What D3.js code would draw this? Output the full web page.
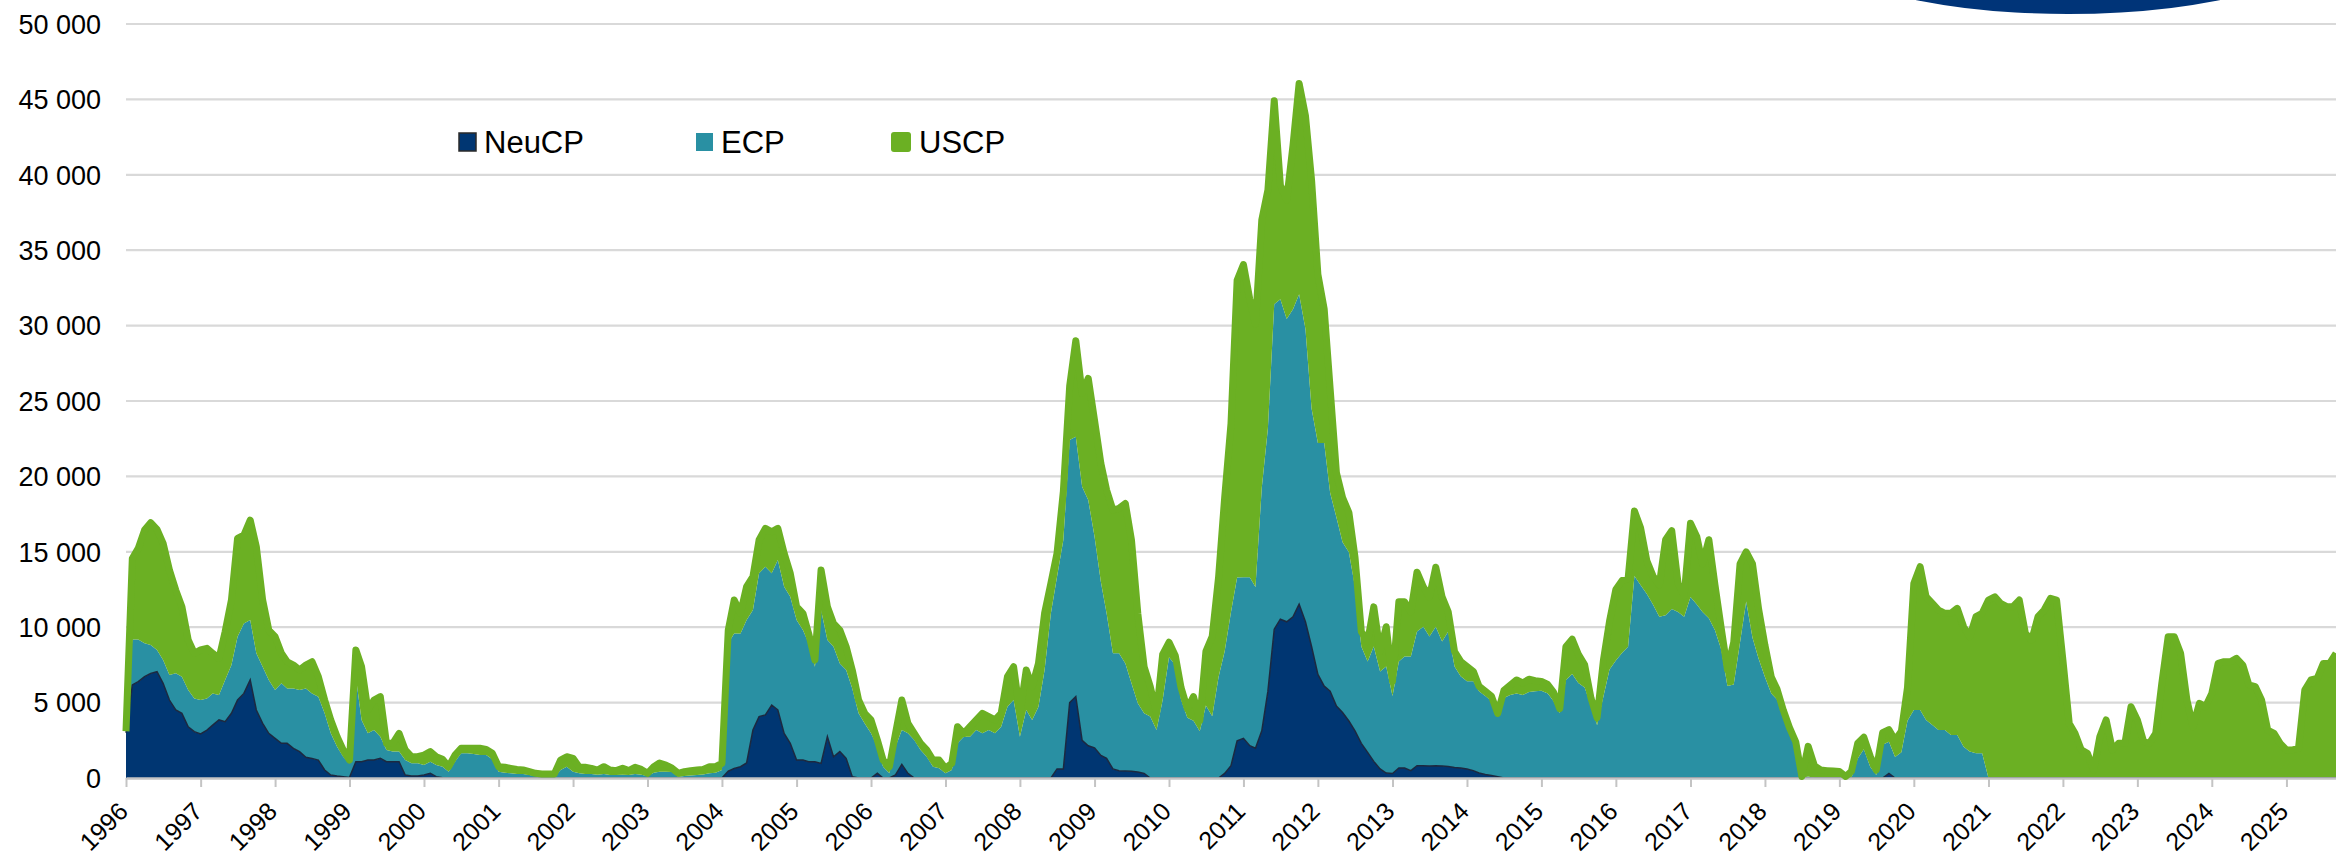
<!doctype html>
<html>
<head>
<meta charset="utf-8">
<script src="https://d3js.org/d3.v7.min.js"></script>
<style>
  body { margin: 0; background: #fff; }
  svg { display: block; font-family: "Liberation Sans", Arial, sans-serif; }
</style>
</head>
<body>
<svg id="chart" width="2336" height="858"></svg>
<script>
// monthly values, Jan 1996 .. Sep 2025 (one row per year)
var seriesNames = ["NeuCP", "ECP", "USCP"];
var seriesColors = ["#003672", "#2990a3", "#6bb023"];
var yTickValues = [0, 5000, 10000, 15000, 20000, 25000, 30000, 35000, 40000, 45000, 50000];
var yearLabels = d3.range(1996, 2026);

var neucp = [
  3000,6170,6390,6720,6940,7050,6280,5170,4510,4290,3400,3070,
  2920,3180,3510,3850,3730,4290,5170,5610,6500,4510,3620,2960,
  2630,2300,2300,1970,1750,1370,1300,1190,530,200,130,90,
  40,1080,1080,1190,1190,1300,1080,1080,1080,200,130,130,
  200,310,90,20,0,0,0,0,0,0,0,0,
  0,0,0,0,0,0,0,0,0,0,0,0,
  0,0,0,0,0,0,0,0,0,0,0,0,
  0,0,0,0,0,0,0,0,0,0,0,0,
  0,450,640,750,1000,3180,4070,4180,4840,4510,2960,2300,
  1190,1190,1080,1080,970,2740,1410,1750,1300,90,0,0,
  0,310,0,0,200,900,300,0,0,0,0,0,
  0,0,0,0,0,0,0,0,0,0,0,0,
  0,0,0,0,0,0,600,600,5000,5400,2500,2140,
  2000,1500,1300,600,480,470,450,400,300,0,0,0,
  0,0,0,0,0,0,0,0,0,300,820,2470,
  2630,2140,1970,3130,5760,9870,10530,10360,10690,11520,10360,8720,
  6870,6090,5760,4770,4340,3780,3130,2300,1700,1100,600,330,
  300,660,660,490,820,820,800,820,800,760,700,660,
  600,490,330,230,160,80,0,0,0,0,0,0,
  0,0,0,0,0,0,0,0,0,0,0,0,
  0,0,0,0,0,0,0,0,0,0,0,0,
  0,0,0,0,0,0,0,0,0,0,0,0,
  0,0,0,0,0,0,0,0,0,0,0,0,
  0,0,0,0,0,0,0,0,300,0,0,0,
  0,0,0,0,0,0,0,0,0,0,0,0,
  0,0,0,0,0,0,0,0,0,0,0,0,
  0,0,0,0,0,0,0,0,0,0,0,0,
  0,0,0,0,0,0,0,0,0,0,0,0,
  0,0,0,0,0,0,0,0,0,0,0,0,
  0,0,0,0,0,0,0,0,0
];

var ecp = [
  0,3020,2800,2210,1880,1440,1540,1660,2430,2430,2430,2210,
  2250,2100,2100,1650,2770,3200,4200,4640,3980,3760,3760,3540,
  3200,3980,3640,3970,4080,4570,4310,4200,3760,2760,1950,1320,
  930,5640,2770,1770,1990,1440,780,670,670,990,840,840,
  660,770,770,730,420,1080,1640,1640,1590,1520,1520,1240,
  420,350,310,270,270,200,130,90,90,90,530,750,
  420,310,270,270,220,270,200,200,220,200,270,220,
  130,350,420,420,400,90,130,170,200,240,310,350,
  530,8480,8950,8840,9480,7960,9500,9830,8730,9940,9730,9720,
  9290,8620,7850,6300,10170,6410,7300,5850,5860,5850,4290,3620,
  2960,1770,750,310,1880,2280,2660,2520,1860,1410,750,640,
  310,530,2300,2740,2740,3180,2960,3180,2960,3400,4730,5170,
  2740,4510,3850,4730,7160,10920,12750,15180,17410,17230,16820,16290,
  14000,11500,9620,7670,7790,7130,5830,4550,3990,4070,3180,5170,
  8000,7500,5200,4000,3800,3100,4800,4100,6700,8100,10180,10830,
  10690,11180,10700,16120,17430,21550,21220,20070,20400,20560,19410,15790,
  15340,16120,13160,12500,11290,11190,9540,6420,6030,7620,6470,7070,
  5130,7070,7400,7570,8890,9210,8580,9210,8250,8950,6700,6080,
  5820,5930,5430,5200,4940,4030,5300,5500,5600,5500,5700,5750,
  5780,5600,5100,4300,6500,6900,6300,6000,4800,3500,5400,7200,
  7800,8300,8700,13400,12800,12200,11500,10700,10800,11200,11000,10700,
  12000,11500,11000,10600,9800,8500,6100,6200,9000,11700,9300,7900,
  6700,5600,5200,4100,3100,2100,0,100,0,0,0,0,
  0,0,0,1300,1900,750,200,2200,2100,1400,1700,3800,
  4510,4510,3850,3510,3180,3180,2850,2850,2080,1750,1640,1640,
  0,0,0,0,0,0,0,0,0,0,0,0,
  0,0,0,0,0,0,0,0,0,0,0,0,
  0,0,0,0,0,0,0,0,0,0,0,0,
  0,0,0,0,0,0,0,0,0,0,0,0,
  0,0,0,0,0,0,0,0,0
];

var uscp = [
  100,5370,6040,7510,8110,8000,7740,6960,5520,4640,3320,2990,
  3320,3320,2660,2430,3200,4310,6520,5860,6620,7070,4420,3310,
  3540,1990,1770,1550,1330,1550,2100,1330,880,890,660,450,
  220,1770,3530,1550,1990,2650,440,550,1210,670,440,440,
  660,670,550,490,330,440,330,330,380,450,380,400,
  330,360,330,300,260,220,180,180,180,180,660,660,
  880,400,440,370,310,480,330,290,420,290,440,350,
  180,400,570,440,250,220,290,320,330,330,440,400,
  440,880,2210,1330,2210,2210,2210,2540,2760,2100,2210,1550,
  880,1110,660,440,2660,2210,1540,2210,1550,1220,880,670,
  890,440,440,440,880,1990,660,440,440,450,440,550,
  330,440,1100,220,660,670,1330,890,890,890,1990,2210,
  1550,2650,2210,2870,3760,1990,1550,3220,3590,6370,6180,8070,
  7700,7860,8180,9500,9610,10600,9500,5970,3090,1990,1110,3030,
  1000,600,800,600,1600,700,3600,5300,6600,10200,12500,19700,
  20730,18430,17430,17760,15800,13490,7570,7900,10860,13980,14150,15140,
  11180,8880,6910,2960,2960,2630,1970,990,1320,2630,1320,2630,
  990,3950,3620,2960,3940,2640,2630,3950,2960,1310,990,990,
  980,650,330,330,330,170,500,650,900,800,850,700,
  620,600,600,300,2200,2300,1900,1500,500,500,2400,3200,
  4700,4800,4500,4300,3800,2200,1900,2100,5000,5200,1900,1400,
  4900,4500,3200,5200,3000,1400,1100,2800,5200,3300,4900,3300,
  2100,1100,700,400,250,300,100,2000,800,530,490,460,
  430,100,450,1000,800,700,330,800,800,1100,1400,2200,
  8390,9500,8170,8070,7960,7740,8070,8400,7950,7620,9060,9280,
  11800,12020,11580,11360,11360,11800,9590,9150,10700,11140,11910,11800,
  7820,3620,2960,1860,1640,530,2740,3850,1860,2300,2300,4730,
  3850,2410,2300,2960,6280,9370,9370,8270,5170,3400,4950,4730,
  5610,7600,7710,7710,7930,7490,6170,6060,5170,3180,2960,2300,
  1860,1860,1970,5830,6500,6610,7600,7600,8270
];

var months = d3.timeMonth.range(new Date(1996, 0, 1), new Date(2025, 9, 1));

var rows = months.map(function(d, i) {
  return { date: d, NeuCP: neucp[i], ECP: ecp[i], USCP: uscp[i] };
});

var svg = d3.select("#chart");
var margin = { top: 24, right: 0, bottom: 80, left: 126 };
var width = 2336, height = 858;
var plotBottom = height - margin.bottom;

var x = d3.scaleTime()
  .domain([new Date(1996, 0, 1), new Date(2025, 8, 1)])
  .range([margin.left, width - margin.right]);
var y = d3.scaleLinear().domain([0, 50000]).range([plotBottom, margin.top]);

// gridlines
svg.append("g").selectAll("line")
  .data(yTickValues.filter(function(v) { return v > 0; }))
  .enter().append("line")
    .attr("x1", margin.left).attr("x2", width - margin.right)
    .attr("y1", function(d) { return y(d); })
    .attr("y2", function(d) { return y(d); })
    .attr("stroke", "#d9d9d9")
    .attr("stroke-width", 2.2);

// y labels
svg.append("g").selectAll("text")
  .data(yTickValues)
  .enter().append("text")
    .attr("x", 101)
    .attr("y", function(d) { return y(d); })
    .attr("dy", "0.36em")
    .attr("text-anchor", "end")
    .attr("font-size", 27)
    .attr("fill", "#000")
    .text(function(d) { return d3.format(",")(d).replace(/,/g, " "); });

// stacked areas
var stacked = d3.stack().keys(seriesNames)(rows);

var area = d3.area()
  .x(function(d) { return x(d.data.date); })
  .y0(function(d) { return y(d[0]); })
  .y1(function(d) { return y(d[1]); });

svg.append("g").selectAll("path")
  .data(stacked)
  .enter().append("path")
    .attr("d", area)
    .attr("fill", function(d, i) { return seriesColors[i]; });

// thin outline on NeuCP
var line = d3.line()
  .x(function(d) { return x(d.data.date); })
  .y(function(d) { return y(d[1]); });

svg.append("path")
  .attr("d", line(stacked[0]))
  .attr("fill", "none")
  .attr("stroke", "#1c2940")
  .attr("stroke-width", 1.5);

// x axis
var xAxis = d3.axisBottom(x)
  .tickValues(yearLabels.map(function(yr) { return new Date(yr, 0, 1); }))
  .tickFormat(d3.timeFormat("%Y"))
  .tickSize(9)
  .tickSizeOuter(0);

var xAxisG = svg.append("g")
  .attr("transform", "translate(0," + plotBottom + ")")
  .call(xAxis);

xAxisG.select(".domain").attr("stroke", "#c4c4c4").attr("stroke-width", 2.5);
xAxisG.selectAll(".tick line").attr("stroke", "#c4c4c4").attr("stroke-width", 2);
xAxisG.selectAll(".tick text")
  .attr("font-family", "Liberation Sans, Arial, sans-serif")
  .attr("font-size", 25)
  .attr("fill", "#000")
  .attr("text-anchor", "end")
  .attr("y", 0)
  .attr("dy", 0)
  .attr("transform", "translate(3,35) rotate(-45)");

// thick green line on top of total
svg.append("path")
  .attr("d", line(stacked[2]))
  .attr("fill", "none")
  .attr("stroke", seriesColors[2])
  .attr("stroke-width", 7)
  .attr("stroke-linejoin", "round");

// logo piece at the top
svg.append("ellipse")
  .attr("cx", 2068).attr("cy", -66)
  .attr("rx", 270).attr("ry", 80)
  .attr("fill", "#003478");

// legend
var legendX = [459, 696, 891];
var legend = svg.append("g").selectAll("g")
  .data(seriesNames)
  .enter().append("g")
    .attr("transform", function(d, i) { return "translate(" + legendX[i] + ",133)"; });

legend.append("rect")
  .attr("width", function(d, i) { return i == 2 ? 20 : 17; })
  .attr("height", function(d, i) { return i == 2 ? 20 : 18; })
  .attr("y", function(d, i) { return i == 2 ? -1 : 0; })
  .attr("rx", function(d, i) { return i == 2 ? 3 : 0; })
  .attr("fill", function(d, i) { return seriesColors[i]; })
  .attr("stroke", function(d, i) { return i == 0 ? "#2a2a2a" : "none"; })
  .attr("stroke-width", 1.5);

legend.append("text")
  .attr("x", function(d, i) { return i == 2 ? 28 : 25; })
  .attr("y", 20)
  .attr("font-size", 31)
  .attr("fill", "#000")
  .text(function(d) { return d; });
</script>
</body>
</html>
